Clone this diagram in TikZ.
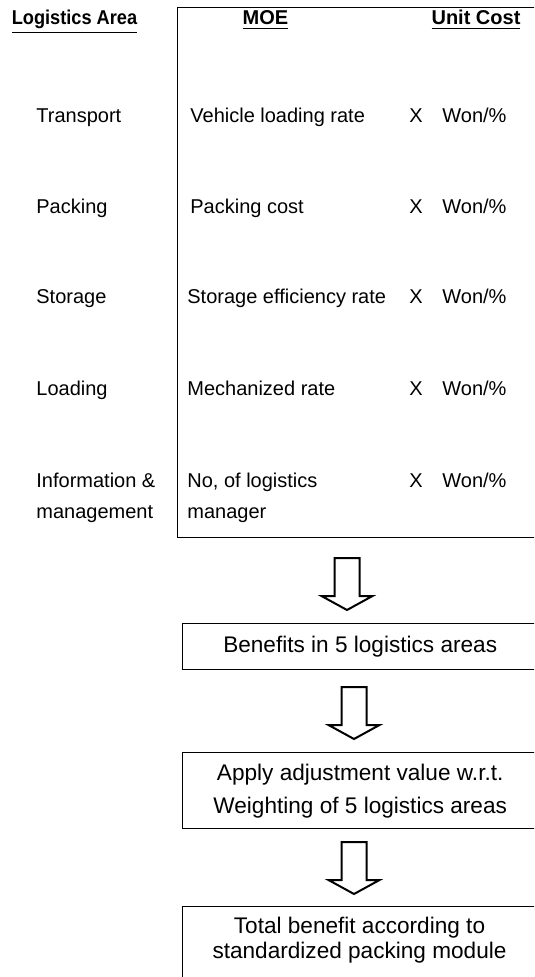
\documentclass[tikz,border=0pt]{standalone}
\usepackage{fontspec}
\setmainfont{Liberation Sans}

\begin{document}
\begin{tikzpicture}[x=0.5pt, y=-0.5pt, font=\fontsize{10}{12}\selectfont,
        every node/.style={inner sep=0pt},
        head/.style={font=\fontsize{10}{12}\selectfont\bfseries, anchor=base},
        item/.style={anchor=base west},
        box/.style={draw, line width=0.7pt, anchor=north west, minimum width=177.5pt},
        pics/downarrow/.style={code={
            \draw[line width=1pt, line join=miter] (-12.5,0) -- (12.5,0) -- (12.5,38) -- (25.5,38) -- (0,52) -- (-25.5,38) -- (-12.5,38) -- cycle;}}]
                \useasboundingbox (0,0) rectangle (534,977);
                \clip (0,0) rectangle (534,977);

                \node[box, minimum width=181.5pt, minimum height=265pt] (tbl) at (177,7) {};

                \node[head] (areahead) at (74.5,25) {\scalebox{0.91}[1]{\underline{Logistics Area}}};
                \node[head] (moehead) at (265.5,25) {\underline{MOE}};
                \node[head] (costhead) at (476,25) {\underline{Unit Cost}};

                \node[item] (transport) at (36,123) {Transport};
                \node[item] (vehicle) at (190,123) {Vehicle loading rate};
                \node[anchor=base] (times1) at (416,123) {X};
                \node[item] (won1) at (442,123) {Won/\%};

                \node[item] (packing) at (36,214) {Packing};
                \node[item] (packcost) at (190,214) {Packing cost};
                \node[anchor=base] (times2) at (416,214) {X};
                \node[item] (won2) at (442,214) {Won/\%};

                \node[item] (storage) at (36,304) {Storage};
                \node[item] (storeff) at (187,304) {Storage efficiency rate};
                \node[anchor=base] (times3) at (416,304) {X};
                \node[item] (won3) at (442,304) {Won/\%};

                \node[item] (loading) at (36,396) {Loading};
                \node[item] (mechrate) at (187,396) {Mechanized rate};
                \node[anchor=base] (times4) at (416,396) {X};
                \node[item] (won4) at (442,396) {Won/\%};

                \node[item] (info) at (36,487) {Information \&};
                \node[item] (infomgmt) at (36,518) {management};
                \node[item] (nologist) at (187,487) {No, of logistics};
                \node[item] (nomanager) at (187,518) {manager};
                \node[anchor=base] (times5) at (416,487) {X};
                \node[item] (won5) at (442,487) {Won/\%};

                \coordinate (a1) at (347,558);
                \pic at (a1) {downarrow};

                \node[box, minimum height=23pt, font=\fontsize{11.3}{13}\selectfont] (benefit) at (182,623) {Benefits in 5 logistics areas};

                \coordinate (a2) at (354,687);
                \pic at (a2) {downarrow};

                \node[box, minimum height=38pt, align=center, font=\fontsize{11.3}{16.5}\selectfont] (adjust) at (182,752) {Apply adjustment value w.r.t.\\Weighting of 5 logistics areas};

                \coordinate (a3) at (354,842);
                \pic at (a3) {downarrow};

                \node[box, minimum height=50pt] (total) at (182,906) {};
                \node[anchor=north, align=center, font=\fontsize{11.3}{12.5}\selectfont] (totaltext) at (359.5,917) {Total benefit according to\\standardized packing module};
\end{tikzpicture}
\end{document}
